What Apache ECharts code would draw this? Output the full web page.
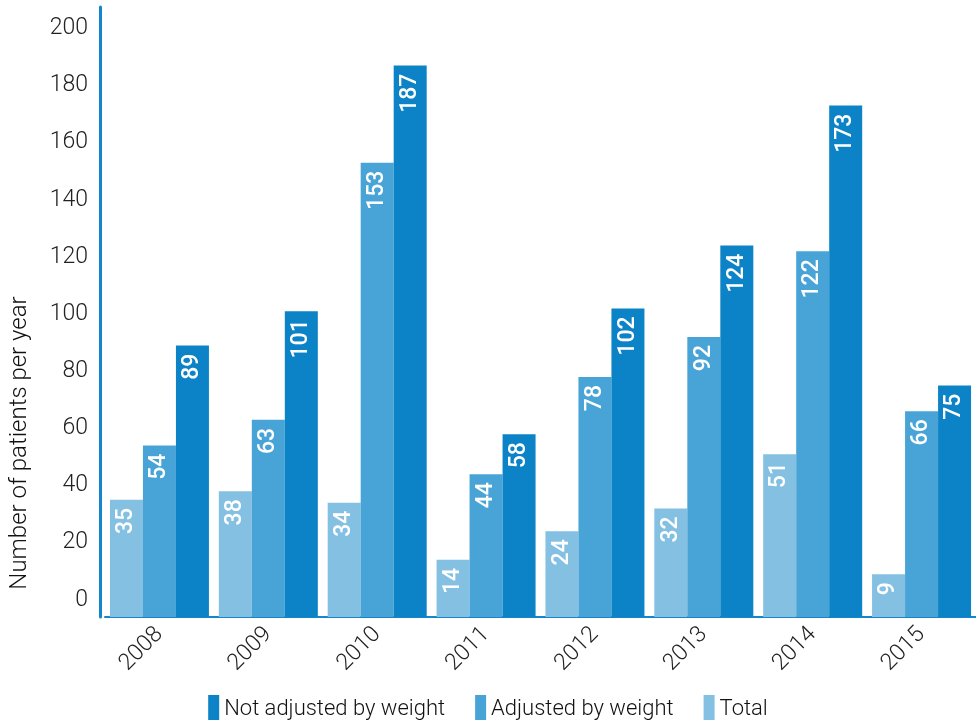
<!DOCTYPE html>
<html>
<head>
<meta charset="utf-8">
<script src="https://cdn.jsdelivr.net/npm/echarts@6/dist/echarts.min.js"></script>
<style>
  html, body { margin: 0; padding: 0; background: #fff; }
  #main { width: 976px; height: 720px; }
</style>
</head>
<body>
<div id="main"></div>
<script>
// data
const years = ['2008', '2009', '2010', '2011', '2012', '2013', '2014', '2015'];
const total = [35, 38, 34, 14, 24, 32, 51, 9];
const adjusted = [54, 63, 153, 44, 78, 92, 122, 66];
const notAdjusted = [89, 101, 187, 58, 102, 124, 173, 75];
const yTicks = [0, 20, 40, 60, 80, 100, 120, 140, 160, 180, 200];

const FONT = 'Roboto, "Liberation Sans", sans-serif';
const axisBlue = '#1686cc';

function barLabel() {
    return {
        show: true,
        position: 'insideTop',
        rotate: 90,
        align: 'right',
        verticalAlign: 'middle',
        distance: 8,
        color: '#fff',
        fontFamily: FONT,
        fontSize: 23,
        fontWeight: 500
    };
}

function makeSeries(name, data, color) {
    return {
        name: name,
        type: 'bar',
        data: data,
        barWidth: 33,
        barGap: '0%',
        itemStyle: {color: color},
        label: barLabel(),
        emphasis: {disabled: true}
    };
}

const chart = echarts.init(document.getElementById('main'), null, {renderer: 'canvas'});
chart.setOption({
    animation: false,
    backgroundColor: '#fff',
    grid: {left: 104, right: -4, top: 7, bottom: 103, containLabel: false},
    legend: {
        data: ['Not adjusted by weight', 'Adjusted by weight', 'Total'],
        bottom: -8,
        left: 'center',
        itemWidth: 11,
        itemHeight: 28,
        itemGap: 30,
        icon: 'rect',
        textStyle: {fontFamily: FONT, fontSize: 22, fontWeight: 300, color: '#111'}
    },
    xAxis: {
        type: 'category',
        data: years,
        axisLine: {show: true, onZero: false, lineStyle: {color: axisBlue, width: 2}},
        axisTick: {show: false},
        axisLabel: {
            rotate: 45,
            margin: 14,
            fontFamily: FONT,
            fontSize: 23,
            fontWeight: 300,
            color: '#222'
        }
    },
    yAxis: {
        type: 'value',
        min: -6,
        max: 207.5,
        startValue: -6,
        offset: 5,
        name: 'Number of patients per year',
        nameLocation: 'middle',
        nameGap: 68,
        nameTextStyle: {fontFamily: FONT, fontSize: 24, fontWeight: 300, color: '#111', padding: [0, 262, 0, 0]},
        axisLine: {show: true, lineStyle: {color: axisBlue, width: 3}},
        axisTick: {show: false},
        splitLine: {show: false},
        axisLabel: {
            customValues: yTicks,
            margin: 12,
            fontFamily: FONT,
            fontSize: 23,
            fontWeight: 300,
            color: '#222',
            padding: [6, 0, 0, 0]
        }
    },
    series: [
        makeSeries('Total', total, '#84c0e2'),
        makeSeries('Adjusted by weight', adjusted, '#48a4d7'),
        makeSeries('Not adjusted by weight', notAdjusted, '#0b83c6')
    ]
});
</script>
</body>
</html>
